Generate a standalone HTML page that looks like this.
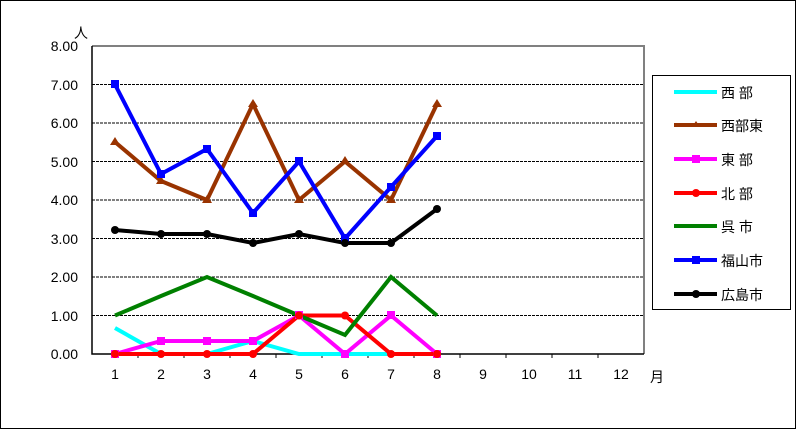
<!DOCTYPE html><html><head><meta charset="utf-8"><style>body{margin:0;background:#fff}svg{display:block}text{font-family:"Liberation Sans","Noto Sans CJK JP",sans-serif;font-size:14px;fill:#000}</style></head><body>
<svg width="799" height="431" viewBox="0 0 799 431">
<rect x="0.5" y="0.5" width="795" height="428" fill="#fff" stroke="#000"/>
<g stroke="#000" stroke-dasharray="3,1" stroke-width="1">
<line x1="92" x2="644" y1="84.5" y2="84.5"/><line x1="92" x2="644" y1="123" y2="123"/><line x1="92" x2="644" y1="161.5" y2="161.5"/><line x1="92" x2="644" y1="200" y2="200"/><line x1="92" x2="644" y1="238.5" y2="238.5"/><line x1="92" x2="644" y1="277" y2="277"/><line x1="92" x2="644" y1="315.5" y2="315.5"/>
</g>
<polyline points="92,46 644,46 644,354" fill="none" stroke="#808080" stroke-width="2"/>
<polyline points="92,46 92,354 644,354" fill="none" stroke="#000" stroke-width="1.5"/>
<g stroke="#000"><line x1="138" x2="138" y1="354" y2="358"/><line x1="184" x2="184" y1="354" y2="358"/><line x1="230" x2="230" y1="354" y2="358"/><line x1="276" x2="276" y1="354" y2="358"/><line x1="322" x2="322" y1="354" y2="358"/><line x1="368" x2="368" y1="354" y2="358"/><line x1="414" x2="414" y1="354" y2="358"/><line x1="460" x2="460" y1="354" y2="358"/><line x1="506" x2="506" y1="354" y2="358"/><line x1="552" x2="552" y1="354" y2="358"/><line x1="598" x2="598" y1="354" y2="358"/></g>
<g text-anchor="end"><text x="78" y="51">8.00</text><text x="78" y="90">7.00</text><text x="78" y="128">6.00</text><text x="78" y="167">5.00</text><text x="78" y="205">4.00</text><text x="78" y="244">3.00</text><text x="78" y="282">2.00</text><text x="78" y="321">1.00</text><text x="78" y="359">0.00</text></g>
<text x="74" y="38" font-size="15">人</text>
<g text-anchor="middle"><text x="115" y="379">1</text><text x="161" y="379">2</text><text x="207" y="379">3</text><text x="253" y="379">4</text><text x="299" y="379">5</text><text x="345" y="379">6</text><text x="391" y="379">7</text><text x="437" y="379">8</text><text x="483" y="379">9</text><text x="529" y="379">10</text><text x="575" y="379">11</text><text x="621" y="379">12</text></g>
<text x="650" y="382" font-size="15">月</text>
<g fill="none" stroke-width="4" stroke-linejoin="miter">
<polyline stroke="#00ffff" points="115,328 161,354 207,354 253,341 299,354 345,354 391,354"/>
<polyline stroke="#993300" points="115,142 161,181 207,200 253,104 299,200 345,161.5 391,200 437,104"/>
<polyline stroke="#ff00ff" points="115,354 161,341 207,341 253,341 299,315.5 345,354 391,315.5 437,354"/>
<polyline stroke="#ff0000" points="115,354 161,354 207,354 253,354 299,315.5 345,315.5 391,354 437,354"/>
<polyline stroke="#008000" points="115,315.5 161,296 207,277 253,296 299,315.5 345,335 391,277 437,315.5"/>
<polyline stroke="#0000ff" points="115,84.5 161,174 207,149 253,213 299,161.5 345,238.5 391,187 437,136"/>
<polyline stroke="#000" points="115,230 161,234 207,234 253,243 299,234 345,243 391,243 437,209"/>
</g>
<g fill="#993300"><path d="M115,137 l5,8 h-10z M161,176 l5,8 h-10z M207,195 l5,8 h-10z M253,99 l5,8 h-10z M299,195 l5,8 h-10z M345,156 l5,8 h-10z M391,195 l5,8 h-10z M437,99 l5,8 h-10z"/></g>
<g fill="#ff00ff"><rect x="111" y="350" width="8" height="8"/><rect x="157" y="337" width="8" height="8"/><rect x="203" y="337" width="8" height="8"/><rect x="249" y="337" width="8" height="8"/><rect x="295" y="311" width="8" height="8"/><rect x="341" y="350" width="8" height="8"/><rect x="387" y="311" width="8" height="8"/><rect x="433" y="350" width="8" height="8"/></g>
<g fill="#ff0000"><circle cx="115" cy="354" r="4"/><circle cx="161" cy="354" r="4"/><circle cx="207" cy="354" r="4"/><circle cx="253" cy="354" r="4"/><circle cx="299" cy="315.5" r="4"/><circle cx="345" cy="315.5" r="4"/><circle cx="391" cy="354" r="4"/><circle cx="437" cy="354" r="4"/></g>
<g fill="#0000ff"><rect x="111" y="80" width="8" height="8"/><rect x="157" y="170" width="8" height="8"/><rect x="203" y="145" width="8" height="8"/><rect x="249" y="209" width="8" height="8"/><rect x="295" y="157" width="8" height="8"/><rect x="341" y="234" width="8" height="8"/><rect x="387" y="183" width="8" height="8"/><rect x="433" y="132" width="8" height="8"/></g>
<g fill="#000"><circle cx="115" cy="230" r="4"/><circle cx="161" cy="234" r="4"/><circle cx="207" cy="234" r="4"/><circle cx="253" cy="243" r="4"/><circle cx="299" cy="234" r="4"/><circle cx="345" cy="243" r="4"/><circle cx="391" cy="243" r="4"/><circle cx="437" cy="209" r="4"/></g>
<rect x="652.5" y="75.5" width="138" height="234" fill="#fff" stroke="#000"/>
<g stroke-width="4"><line x1="674" x2="717" y1="92" y2="92" stroke="#00ffff"/><line x1="674" x2="717" y1="125" y2="125" stroke="#993300"/><line x1="674" x2="717" y1="159" y2="159" stroke="#ff00ff"/><line x1="674" x2="717" y1="193" y2="193" stroke="#ff0000"/><line x1="674" x2="717" y1="226" y2="226" stroke="#008000"/><line x1="674" x2="717" y1="260" y2="260" stroke="#0000ff"/><line x1="674" x2="717" y1="294" y2="294" stroke="#000"/></g>
<path d="M696,121 l4,6 h-8z" fill="#993300"/><rect x="692" y="155" width="8" height="8" fill="#ff00ff"/><circle cx="696" cy="193" r="4" fill="#f00"/><rect x="692" y="256" width="8" height="8" fill="#00f"/><circle cx="696" cy="294" r="4" fill="#000"/>
<g font-size="15"><text x="721" y="98">西 部</text><text x="721" y="131">西部東</text><text x="721" y="165">東 部</text><text x="721" y="199">北 部</text><text x="721" y="232">呉 市</text><text x="721" y="266">福山市</text><text x="721" y="300">広島市</text></g>
</svg></body></html>
